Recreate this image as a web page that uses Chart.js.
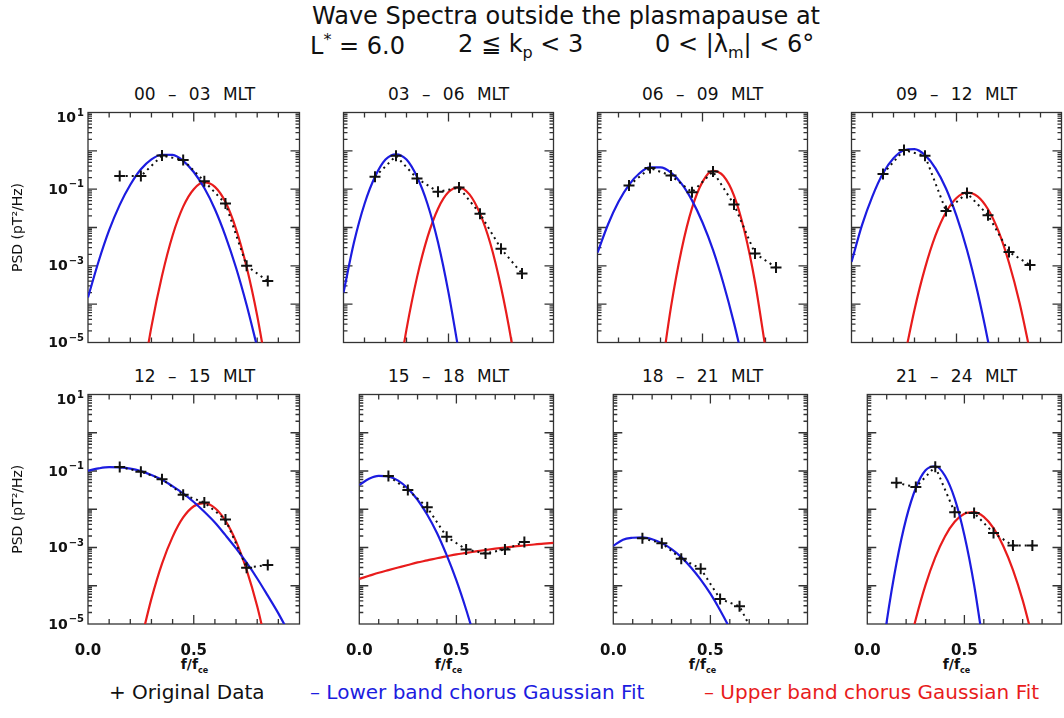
<!DOCTYPE html>
<html>
<head>
<meta charset="utf-8">
<title>Wave Spectra outside the plasmapause</title>
<script src="https://cdn.jsdelivr.net/npm/chart.js@4.4.1/dist/chart.umd.min.js"></script>
<style>
body{margin:0;background:#fff;font-family:"DejaVu Sans",sans-serif;color:#111;}
#page{position:relative;width:1064px;height:718px;overflow:hidden;background:#fff;}
.abs{position:absolute;white-space:pre;}
.head{font-size:24px;top:2px;}
.sub{font-size:16px;}
.ptitle{font-size:17px;text-align:center;width:213px;word-spacing:7px;}
.xlab{font-size:14px;font-weight:bold;text-align:center;width:213px;top:656px;}
.xlab sub{font-size:8px;}
.leg{font-size:20px;top:680px;}
canvas{position:absolute;}
</style>
</head>
<body>
<div id="page">
  <div class="abs head" style="left:0;width:1132px;text-align:center;">Wave Spectra outside the plasmapause at</div>
  <div class="abs head" style="left:310px;top:30px;">L<sup class="sub">*</sup> = 6.0</div>
  <div class="abs head" style="left:458px;top:30px;">2 ≦ k<sub class="sub">p</sub> &lt; 3</div>
  <div class="abs head" style="left:655px;top:30px;">0 &lt; |λ<sub class="sub">m</sub>| &lt; 6°</div>
  <div class="abs leg" style="left:109px;">+ Original Data</div>
  <div class="abs leg" style="left:310px;color:#1c1ce0;">– Lower band chorus Gaussian Fit</div>
  <div class="abs leg" style="left:704px;color:#e81c1c;">– Upper band chorus Gaussian Fit</div>
</div>
<script>
var N = null;
var panelTitles = ['00 – 03 MLT', '03 – 06 MLT', '06 – 09 MLT', '09 – 12 MLT',
                   '12 – 15 MLT', '15 – 18 MLT', '18 – 21 MLT', '21 – 24 MLT'];
var yLabelExps = [1, -1, -3, -5];
var xLabelVals = [0, 0.5];

// f/fce of the measured points
var dataX = [0.15, 0.25, 0.35, 0.45, 0.55, 0.65, 0.75, 0.85];
// f/fce of the fitted curves
var fitX = [0, 0.05, 0.1, 0.15, 0.2, 0.25, 0.3, 0.35, 0.4, 0.45, 0.5,
            0.55, 0.6, 0.65, 0.7, 0.75, 0.8, 0.85, 0.9, 0.95, 1.0];

// PSD (pT^2/Hz)
var data0003 = [0.22, 0.22, 0.75, 0.58, 0.16, 0.042, 1.0e-3, 4.0e-4];
var data0306 = [0.21, 0.74, 0.19, 0.085, 0.11, 0.023, 2.8e-3, 6.3e-4];
var data0609 = [0.125, 0.355, 0.226, 0.083, 0.29, 0.040, 2.1e-3, 9.1e-4];
var data0912 = [0.25, 1.05, 0.74, 0.027, 0.079, 0.021, 2.3e-3, 1.05e-3];
var data1215 = [0.127, 0.096, 0.061, 0.024, 0.015, 5.4e-3, 2.95e-4, 3.5e-4];
var data1518 = [0.074, 0.032, 0.0112, 1.9e-3, 8.9e-4, 7.0e-4, 8.9e-4, 1.4e-3];
var data1821 = [1.75e-3, 1.3e-3, 5.1e-4, 2.8e-4, 4.5e-5, 2.9e-5, 3e-6, N];
var data2124 = [0.049, 0.038, 0.13, 8.3e-3, 8.0e-3, 2.4e-3, 1.12e-3, 1.12e-3];

var lower0003 = [1.5e-4, 1.3e-3, 8.5e-3, 3.9e-2, 0.13, 0.33, 0.60, 0.79, 0.78, 0.55, 0.28, 0.107, 0.030, 6.0e-3, 8.9e-4, 9.5e-5, 7.6e-6, N, N, N, N];
var upper0003 = [N, N, N, N, N, 6e-7, 2.6e-5, 5.5e-4, 6.2e-3, 0.035, 0.10, 0.15, 0.115, 0.046, 9.1e-3, 9.3e-4, 5.0e-5, 1.35e-6, N, N, N];
var lower0306 = [2.0e-4, 4.1e-3, 0.041, 0.21, 0.59, 0.81, 0.59, 0.21, 0.041, 4.1e-3, 2.0e-4, 5.4e-6, N, N, N, N, N, N, N, N, N];
var upper0306 = [N, N, N, N, N, 4.7e-7, 2.2e-5, 5.0e-4, 5.6e-3, 0.031, 0.084, 0.112, 0.073, 0.023, 3.7e-3, 2.8e-4, 1.07e-5, 2e-7, N, N, N];
var lower0609 = [2.2e-3, 0.012, 0.047, 0.13, 0.26, 0.37, 0.37, 0.27, 0.14, 0.051, 0.0135, 2.6e-3, 3.4e-4, 3.2e-5, 2.2e-6, N, N, N, N, N, N];
var upper0609 = [N, N, N, N, N, N, 1.1e-6, 8.5e-5, 2.6e-3, 0.032, 0.155, 0.30, 0.22, 0.068, 8.0e-3, 3.8e-4, 7e-6, N, N, N, N];
var lower0912 = [1.26e-3, 0.0115, 0.066, 0.26, 0.64, 1.04, 1.11, 0.77, 0.35, 0.104, 0.020, 2.6e-3, 2.1e-4, 1.1e-5, 4e-7, N, N, N, N, N, N];
var upper0912 = [N, N, N, N, N, 3.5e-6, 7.2e-5, 8.7e-4, 6.2e-3, 0.025, 0.059, 0.081, 0.065, 0.030, 8.0e-3, 1.2e-3, 1.1e-4, 5.9e-6, N, N, N];
var lower1215 = [0.102, 0.117, 0.126, 0.124, 0.115, 0.099, 0.079, 0.059, 0.040, 0.026, 0.0155, 8.6e-3, 4.5e-3, 2.1e-3, 9.5e-4, 4.0e-4, 1.55e-4, 5.5e-5, 1.9e-5, 5.8e-6, 1.7e-6];
var upper1215 = [N, N, N, N, N, 3.5e-6, 4.6e-5, 3.8e-4, 1.9e-3, 6.1e-3, 0.012, 0.0145, 0.0108, 5.0e-3, 1.45e-3, 2.6e-4, 2.9e-5, 1.9e-6, N, N, N];
var lower1518 = [0.043, 0.063, 0.075, 0.072, 0.056, 0.035, 0.0177, 7.2e-3, 2.4e-3, 6.3e-4, 1.38e-4, 2.4e-5, 3.4e-6, N, N, N, N, N, N, N, N];
var upper1518 = [1.51e-4, 1.82e-4, 2.19e-4, 2.57e-4, 3.0e-4, 3.5e-4, 4.07e-4, 4.6e-4, 5.25e-4, 5.9e-4, 6.6e-4, 7.2e-4, 7.9e-4, 8.6e-4, 9.3e-4, 1.0e-3, 1.07e-3, 1.13e-3, 1.2e-3, 1.26e-3, 1.32e-3];
var lower1821 = [1.1e-3, 1.6e-3, 1.8e-3, 1.85e-3, 1.65e-3, 1.3e-3, 9.1e-4, 5.6e-4, 3.0e-4, 1.45e-4, 6.2e-5, 2.3e-5, 7.6e-6, 2.2e-6, N, N, N, N, N, N, N];
var upper1821 = [];
var lower2124 = [N, 1.5e-7, 1.15e-5, 3.8e-4, 5.6e-3, 0.036, 0.104, 0.133, 0.075, 0.019, 2.1e-3, 1.05e-4, 2.3e-6, N, N, N, N, N, N, N, N];
var upper2124 = [N, N, N, N, 1.2e-6, 1.35e-5, 1.05e-4, 5.5e-4, 1.95e-3, 4.7e-3, 7.6e-3, 8.4e-3, 6.3e-3, 3.2e-3, 1.1e-3, 2.6e-4, 4.2e-5, 4.5e-6, N, N, N];

var panelData = [data0003, data0306, data0609, data0912, data1215, data1518, data1821, data2124];
var panelLower = [lower0003, lower0306, lower0609, lower0912, lower1215, lower1518, lower1821, lower2124];
var panelUpper = [upper0003, upper0306, upper0609, upper0912, upper1215, upper1518, upper1821, upper2124];

// layout
var boxLeft = [88, 342, 596, 850];
var boxTop = [111, 393];
var boxH = [233, 231];
var boxW = 213;
var BLUE = '#1c1ce0', RED = '#e81c1c';

Chart.defaults.font.family = '"DejaVu Sans", sans-serif';
Chart.defaults.color = '#111';

function toPoints(xs, ys) {
	var out = [];
	for (var k = 0; k < ys.length; k++) {
		if (ys[k] != null) out.push({x: xs[k], y: ys[k]});
	}
	return out;
}

// IDL style box with inward ticks on all four sides
var boxTicks = {
	id: 'boxTicks',
	beforeDatasetsDraw: function(chart) {
		var ctx = chart.ctx, a = chart.chartArea;
		var xs = chart.scales.x, ys = chart.scales.y;
		ctx.save();
		ctx.strokeStyle = '#333';
		ctx.lineWidth = 1.3;
		ctx.strokeRect(a.left, a.top, a.right - a.left, a.bottom - a.top);
		ctx.beginPath();
		for (var t = 1; t < 10; t++) {
			var px = xs.getPixelForValue(t / 10);
			var len = (t === 5) ? 9 : 5;
			ctx.moveTo(px, a.bottom); ctx.lineTo(px, a.bottom - len);
			ctx.moveTo(px, a.top); ctx.lineTo(px, a.top + len);
		}
		for (var e = -5; e <= 0; e++) {
			for (var m = 1; m < 10; m++) {
				if (e === -5 && m === 1) continue;
				var py = ys.getPixelForValue(m * Math.pow(10, e));
				var l2 = (m === 1) ? 9 : 4;
				ctx.moveTo(a.left, py); ctx.lineTo(a.left + l2, py);
				ctx.moveTo(a.right, py); ctx.lineTo(a.right - l2, py);
			}
		}
		ctx.stroke();
		ctx.restore();
	}
};

var yLabels = {
	id: 'yLabels',
	afterDraw: function(chart) {
		var ctx = chart.ctx, a = chart.chartArea, ys = chart.scales.y;
		var x0 = a.left - 4;
		ctx.save();
		ctx.fillStyle = '#111';
		ctx.textAlign = 'right';
		yLabelExps.forEach(function(e) {
			var py = ys.getPixelForValue(Math.pow(10, e));
			if (e === 1) py += 5;
			var sup = e < 0 ? '\u2212' + (-e) : String(e);
			ctx.font = 'bold 10px "DejaVu Sans"';
			ctx.textBaseline = 'alphabetic';
			var w = ctx.measureText(sup).width;
			ctx.fillText(sup, x0, py - 2);
			ctx.font = 'bold 14px "DejaVu Sans"';
			ctx.textBaseline = 'middle';
			ctx.fillText('10', x0 - w - 1, py + 1);
		});
		ctx.restore();
	}
};

function makePanel(i) {
	var col = i % 4, row = Math.floor(i / 4);
	var padL = (col === 0) ? 86 : 6;
	var padB = (row === 1) ? 36 : 6;
	var page = document.getElementById('page');

	var tl = document.createElement('div');
	tl.className = 'abs ptitle';
	tl.style.left = boxLeft[col] + 'px';
	tl.style.top = (boxTop[row] - 27) + 'px';
	tl.textContent = panelTitles[i];
	page.appendChild(tl);

	if (row === 1) {
		var xl = document.createElement('div');
		xl.className = 'abs xlab';
		xl.style.left = boxLeft[col] + 'px';
		xl.innerHTML = 'f/f<sub>ce</sub>';
		page.appendChild(xl);
	}

	var cv = document.createElement('canvas');
	cv.width = padL + boxW + 6;
	cv.height = 6 + boxH[row] + padB;
	cv.style.left = (boxLeft[col] - padL) + 'px';
	cv.style.top = (boxTop[row] - 6) + 'px';
	page.appendChild(cv);

	var datasets = [{
		label: 'Original Data',
		data: toPoints(dataX, panelData[i]),
		showLine: true,
		borderColor: '#111',
		borderWidth: 2,
		borderDash: [2, 4],
		tension: 0,
		pointStyle: 'cross',
		pointRadius: 5.5,
		pointBorderWidth: 2,
		pointBorderColor: '#111'
	}, {
		label: 'Lower band chorus Gaussian Fit',
		data: toPoints(fitX, panelLower[i]),
		showLine: true,
		borderColor: BLUE,
		borderWidth: 2.2,
		pointRadius: 0,
		cubicInterpolationMode: 'monotone'
	}];
	if (panelUpper[i].length) {
		datasets.push({
			label: 'Upper band chorus Gaussian Fit',
			data: toPoints(fitX, panelUpper[i]),
			showLine: true,
			borderColor: RED,
			borderWidth: 2.2,
			pointRadius: 0,
			cubicInterpolationMode: 'monotone'
		});
	}

	new Chart(cv, {
		type: 'scatter',
		data: {datasets: datasets},
		options: {
			responsive: false,
			animation: false,
			layout: {padding: {top: 6, right: 6, left: 0, bottom: 0}},
			elements: {line: {capBezierPoints: false}},
			plugins: {legend: {display: false}, tooltip: {enabled: false}},
			scales: {
				x: {
					type: 'linear', min: 0, max: 1,
					grid: {display: false}, border: {display: false},
					afterBuildTicks: function(s) { s.ticks = xLabelVals.map(function(v) { return {value: v}; }); },
					ticks: {
						display: row === 1, padding: 10,
						font: {size: 15, weight: 'bold'}, color: '#111',
						callback: function(v) { return Number(v).toFixed(1); }
					},
					afterFit: function(s) { s.height = padB; }
				},
				y: {
					type: 'logarithmic', min: 1e-5, max: 10,
					grid: {display: false}, border: {display: false},
					ticks: {display: false},
					title: {display: col === 0, text: 'PSD (pT²/Hz)', font: {size: 14}, color: '#111', padding: {top: 8, bottom: 0}},
					afterFit: function(s) { s.width = padL; }
				}
			}
		},
		plugins: col === 0 ? [boxTicks, yLabels] : [boxTicks]
	});
}

for (var p = 0; p < 8; p++) makePanel(p);
</script>
</body>
</html>
